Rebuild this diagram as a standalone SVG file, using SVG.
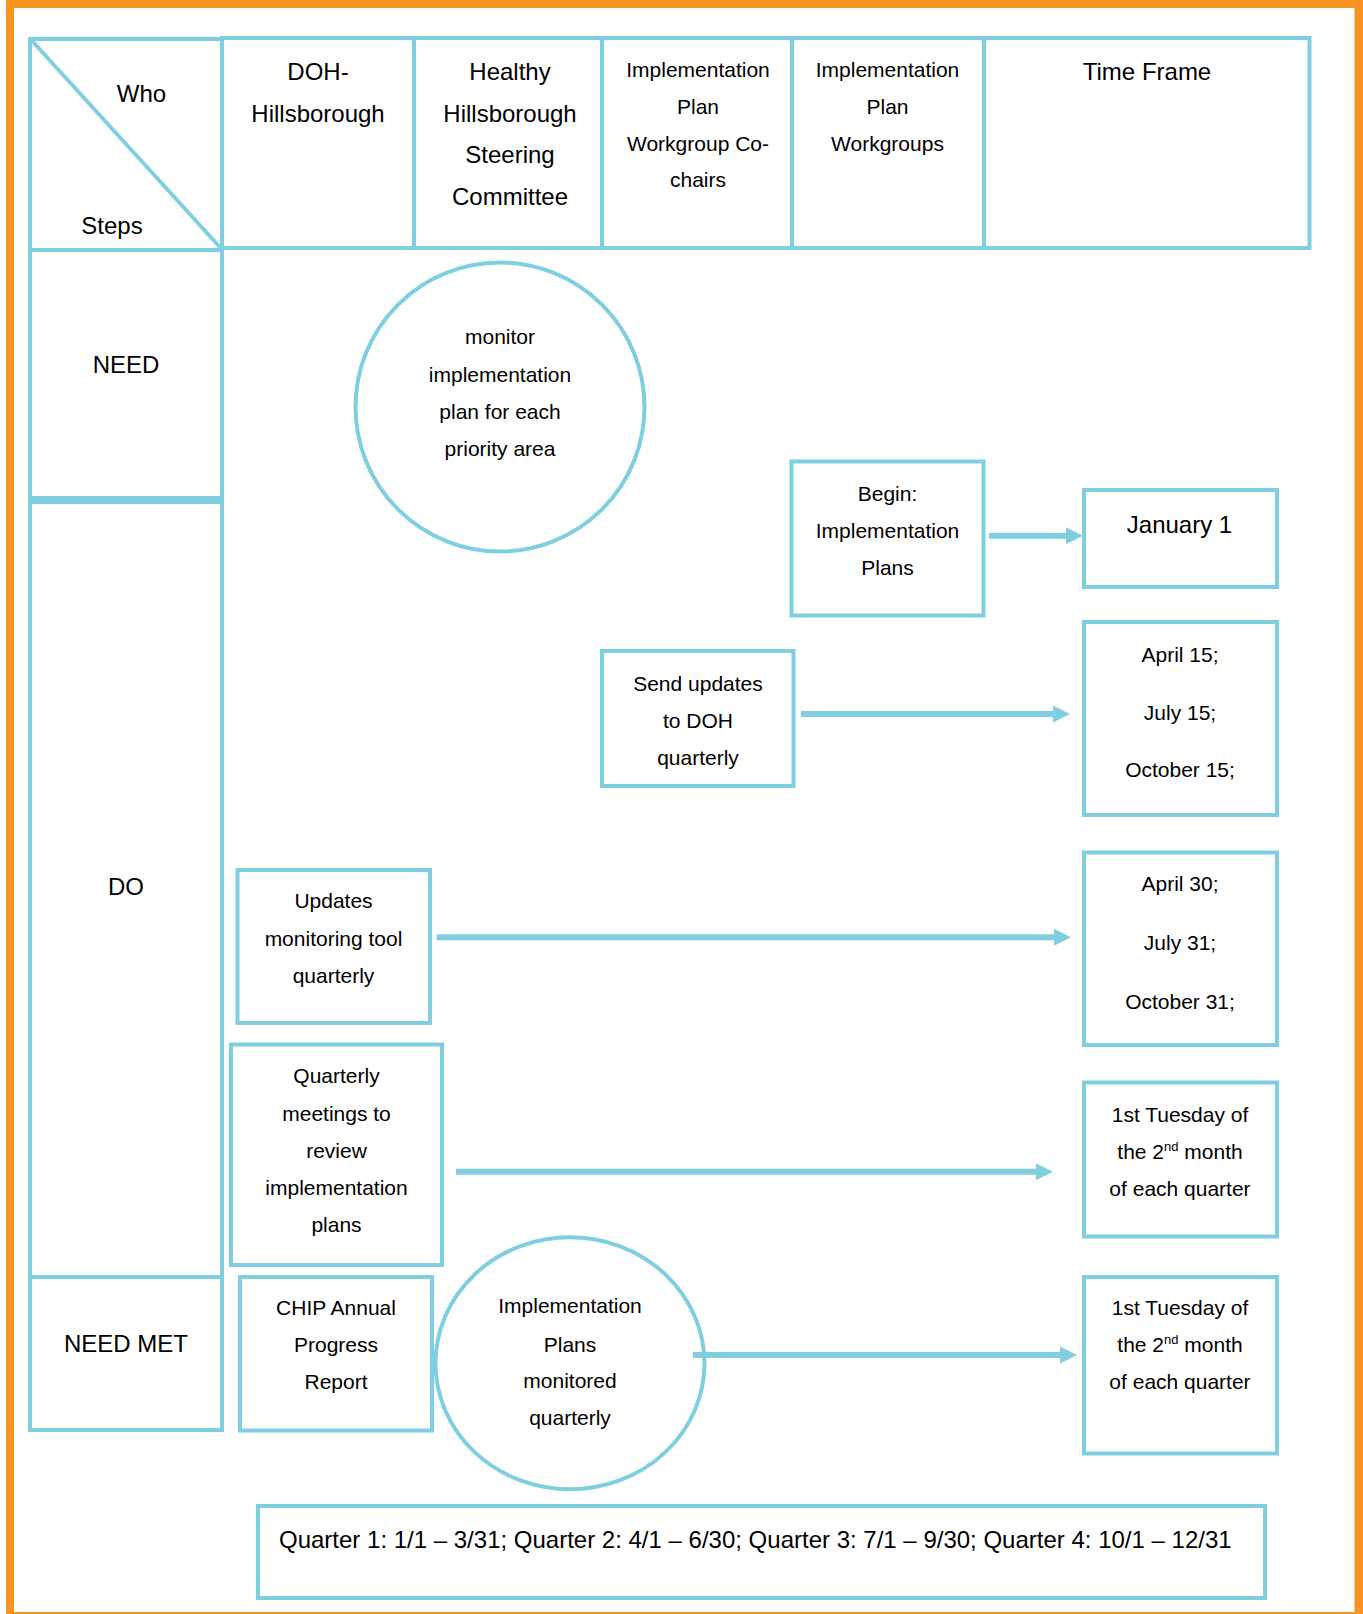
<svg xmlns="http://www.w3.org/2000/svg" width="1363" height="1614" viewBox="0 0 1363 1614">
<style>
.b{fill:none;stroke:#7FCFE0;stroke-width:4}
.t{font-family:"Liberation Sans",Arial,sans-serif;font-size:21px;fill:#000;text-anchor:middle}
.L{font-size:24px}
.c{stroke:#7FCFE0;stroke-width:6;fill:none}
</style>
<defs>
<marker id="ah" markerUnits="userSpaceOnUse" markerWidth="18" markerHeight="18" viewBox="0 0 18 18" refX="0" refY="9" orient="auto">
<path d="M0,0.5 L17,9 L0,17.5 Z" fill="#7FCFE0"/>
</marker>
</defs>
<rect width="1363" height="1614" fill="#fff"/>
<g id="frame" fill="#F7931E">
<rect x="6" y="0" width="1357" height="8"/>
<rect x="6" y="0" width="8" height="1614"/>
<rect x="1354.5" y="0" width="8.5" height="1614"/>
<rect x="6" y="1612" width="1357" height="2"/>
</g>
<g id="header-corner">
<rect class="b" x="30" y="39" width="192" height="211"/>
<line class="b" x1="29" y1="37.5" x2="222.5" y2="250"/>
<text class="t L" x="141.5" y="102">Who</text>
<text class="t L" x="112" y="234">Steps</text>
</g>
<g id="col-doh">
<rect class="b" x="222" y="38" width="192" height="210"/>
<text class="t L" x="318" y="80">DOH-</text>
<text class="t L" x="318" y="121.5">Hillsborough</text>
</g>
<g id="col-hhsc">
<rect class="b" x="414" y="38" width="188" height="210"/>
<text class="t L" x="510" y="80">Healthy</text>
<text class="t L" x="510" y="121.5">Hillsborough</text>
<text class="t L" x="510" y="163">Steering</text>
<text class="t L" x="510" y="204.5">Committee</text>
</g>
<g id="col-cochairs">
<rect class="b" x="602" y="38" width="190" height="210"/>
<text class="t" x="698" y="77">Implementation</text>
<text class="t" x="698" y="114">Plan</text>
<text class="t" x="698" y="150.7">Workgroup Co-</text>
<text class="t" x="698" y="187.3">chairs</text>
</g>
<g id="col-workgroups">
<rect class="b" x="792" y="38" width="192" height="210"/>
<text class="t" x="887.5" y="77">Implementation</text>
<text class="t" x="887.5" y="114">Plan</text>
<text class="t" x="887.5" y="150.7">Workgroups</text>
</g>
<g id="col-timeframe">
<rect class="b" x="984" y="38" width="325.5" height="210"/>
<text class="t L" x="1147" y="80">Time Frame</text>
</g>
<g id="row-need">
<rect class="b" x="30" y="250" width="192" height="248"/>
<text class="t L" x="126" y="373.3">NEED</text>
</g>
<g id="row-do">
<rect class="b" x="30" y="502" width="192" height="775"/>
<text class="t L" x="126" y="895">DO</text>
</g>
<g id="row-needmet">
<rect class="b" x="30" y="1277" width="192" height="153"/>
<text class="t L" x="126" y="1351.7">NEED MET</text>
</g>
<g id="monitor-circle">
<circle class="b" cx="500" cy="407" r="144.5"/>
<text class="t" x="500" y="344">monitor</text>
<text class="t" x="500" y="381.5">implementation</text>
<text class="t" x="500" y="418.5">plan for each</text>
<text class="t" x="500" y="455.5">priority area</text>
</g>
<g id="begin">
<rect class="b" x="791.5" y="461.5" width="192" height="154"/>
<text class="t" x="887.5" y="501">Begin:</text>
<text class="t" x="887.5" y="538.3">Implementation</text>
<text class="t" x="887.5" y="575">Plans</text>
</g>
<g id="jan1">
<rect class="b" x="1084" y="490" width="193" height="97"/>
<text class="t L" x="1179.5" y="533">January 1</text>
</g>
<g id="send-updates">
<rect class="b" x="602" y="651" width="191.5" height="135"/>
<text class="t" x="698" y="690.5">Send updates</text>
<text class="t" x="698" y="727.5">to DOH</text>
<text class="t" x="698" y="764.5">quarterly</text>
</g>
<g id="dates15">
<rect class="b" x="1084" y="622" width="193" height="193"/>
<text class="t" x="1180" y="661.7">April 15;</text>
<text class="t" x="1180" y="720">July 15;</text>
<text class="t" x="1180" y="777.3">October 15;</text>
</g>
<g id="monitoring-tool">
<rect class="b" x="237.5" y="870" width="192.5" height="153"/>
<text class="t" x="333.5" y="908.3">Updates</text>
<text class="t" x="333.5" y="946">monitoring tool</text>
<text class="t" x="333.5" y="983.3">quarterly</text>
</g>
<g id="dates30">
<rect class="b" x="1084" y="852.5" width="193" height="192.5"/>
<text class="t" x="1180" y="890.7">April 30;</text>
<text class="t" x="1180" y="950">July 31;</text>
<text class="t" x="1180" y="1009">October 31;</text>
</g>
<g id="quarterly-meetings">
<rect class="b" x="231" y="1044.5" width="211" height="220.5"/>
<text class="t" x="336.5" y="1083.3">Quarterly</text>
<text class="t" x="336.5" y="1121">meetings to</text>
<text class="t" x="336.5" y="1158.3">review</text>
<text class="t" x="336.5" y="1195">implementation</text>
<text class="t" x="336.5" y="1231.7">plans</text>
</g>
<g id="tuesday1">
<rect class="b" x="1084" y="1082.5" width="193" height="154"/>
<text class="t" x="1180" y="1121.7">1st Tuesday of</text>
<text class="t" x="1180" y="1159">the 2<tspan font-size="13" dy="-8">nd</tspan><tspan dy="8"> month</tspan></text>
<text class="t" x="1180" y="1196">of each quarter</text>
</g>
<g id="chip-report">
<rect class="b" x="240" y="1277" width="192" height="153.5"/>
<text class="t" x="336" y="1315">CHIP Annual</text>
<text class="t" x="336" y="1351.7">Progress</text>
<text class="t" x="336" y="1389.3">Report</text>
</g>
<g id="monitored-circle">
<ellipse class="b" cx="570" cy="1363.3" rx="134.5" ry="126"/>
<text class="t" x="570" y="1313.3">Implementation</text>
<text class="t" x="570" y="1351.7">Plans</text>
<text class="t" x="570" y="1388.3">monitored</text>
<text class="t" x="570" y="1425">quarterly</text>
</g>
<g id="tuesday2">
<rect class="b" x="1084" y="1277" width="193" height="176.5"/>
<text class="t" x="1180" y="1315">1st Tuesday of</text>
<text class="t" x="1180" y="1351.7">the 2<tspan font-size="13" dy="-8">nd</tspan><tspan dy="8"> month</tspan></text>
<text class="t" x="1180" y="1389.3">of each quarter</text>
</g>
<g id="quarters">
<rect class="b" x="258" y="1506" width="1007" height="92"/>
<text class="t L" x="279" y="1547.7" style="text-anchor:start">Quarter 1: 1/1 – 3/31; Quarter 2: 4/1 – 6/30; Quarter 3: 7/1 – 9/30; Quarter 4: 10/1 – 12/31</text>
</g>
<g id="connectors">
<line class="c" x1="989" y1="535.7" x2="1066" y2="535.7" marker-end="url(#ah)"/>
<line class="c" x1="801" y1="714" x2="1053" y2="714" marker-end="url(#ah)"/>
<line class="c" x1="436.6" y1="937.3" x2="1054" y2="937.3" marker-end="url(#ah)"/>
<line class="c" x1="456" y1="1171.7" x2="1036" y2="1171.7" marker-end="url(#ah)"/>
<line class="c" x1="693" y1="1355" x2="1060" y2="1355" marker-end="url(#ah)"/>
</g>
</svg>
